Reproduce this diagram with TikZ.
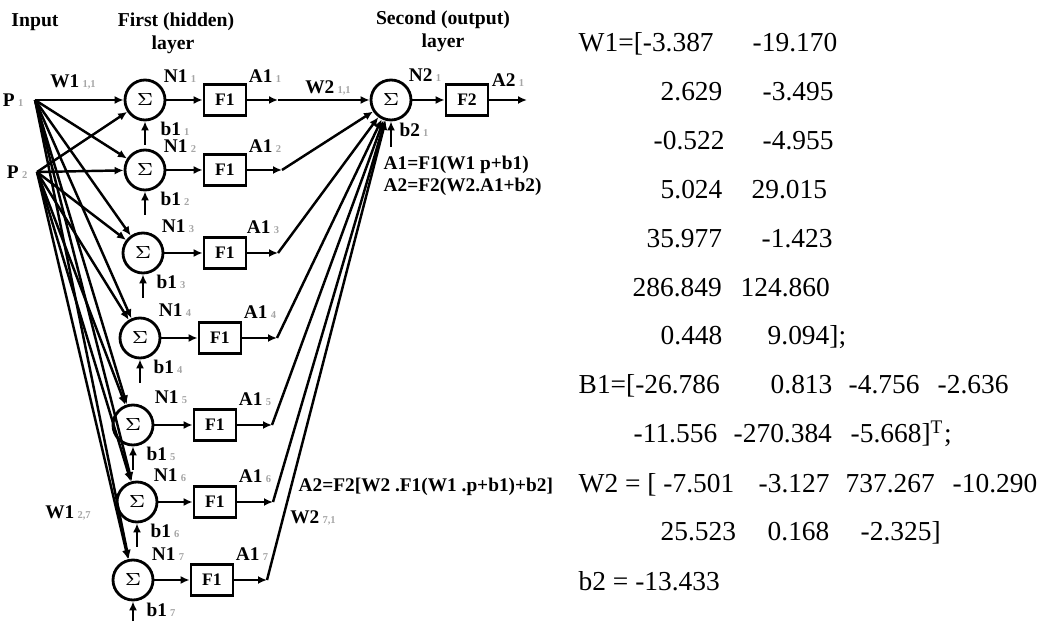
\documentclass[tikz,border=0pt]{standalone}
\usepackage{fontspec}
\setmainfont{Liberation Serif}
\usetikzlibrary{arrows.meta,positioning}
\def\ix#1{\,{\color{black!35}\fontsize{3}{3}\selectfont #1}}
\tikzset{
	sumnode/.style={draw, circle, line width=0.8pt, minimum size=0.4cm, inner sep=0pt, font=\fontsize{5.5}{6}\selectfont},
	funbox/.style={draw, rectangle, line width=0.8pt, minimum width=0.42cm, minimum height=0.31cm, inner sep=0pt, font=\bfseries\fontsize{5}{6}\selectfont},
	hdr/.style={inner sep=0pt, font=\bfseries\fontsize{5.6}{6}\selectfont},
	lbl/.style={inner sep=0pt, font=\bfseries\fontsize{5.5}{6}\selectfont},
	val/.style={inner sep=0pt, anchor=base west, font=\fontsize{7.8}{9}\selectfont},
	arr/.style={line width=0.7pt, -{Latex[length=0.9mm,width=0.8mm]}}
}

\begin{document}
\begin{tikzpicture}
		%%%%% START %%%%%
		\useasboundingbox (0,0) rectangle (10.43,6.21);
		
		\node[hdr] (hin) at (0.35,5.99) {Input};
		\node[hdr] (hhid) at (1.76,5.99) {First (hidden)};
		\node[hdr] (hhidb) at (1.73,5.76) {layer};
		\node[hdr] (hout) at (4.43,6.01) {Second (output)};
		\node[hdr] (houtb) at (4.43,5.78) {layer};
		
		\coordinate (p1) at (0.35,5.21);
		\coordinate (p2) at (0.37,4.49);
		\node[lbl, left=0.11 of p1] (lp1) {P\ix{1}};
		\node[lbl, left=0.09 of p2] (lp2) {P\ix{2}};
		
		% hidden layer
		\node[sumnode] (s1) at (1.45,5.21) {$\Sigma$};
		\node[sumnode] (s2) at (1.45,4.51) {$\Sigma$};
		\node[sumnode] (s3) at (1.43,3.68) {$\Sigma$};
		\node[sumnode] (s4) at (1.40,2.83) {$\Sigma$};
		\node[sumnode] (s5) at (1.33,1.96) {$\Sigma$};
		\node[sumnode] (s6) at (1.37,1.19) {$\Sigma$};
		\node[sumnode] (s7) at (1.33,0.41) {$\Sigma$};
		
		\node[funbox] (f1) at (2.25,5.21) {F1};
		\node[funbox] (f2) at (2.25,4.51) {F1};
		\node[funbox] (f3) at (2.25,3.68) {F1};
		\node[funbox] (f4) at (2.20,2.83) {F1};
		\node[funbox] (f5) at (2.15,1.96) {F1};
		\node[funbox] (f6) at (2.15,1.19) {F1};
		\node[funbox] (f7) at (2.12,0.41) {F1};
		
		\coordinate (a1) at (2.78,5.21);
		\coordinate (a2) at (2.82,4.51);
		\coordinate (a3) at (2.78,3.68);
		\coordinate (a4) at (2.77,2.83);
		\coordinate (a5) at (2.72,1.96);
		\coordinate (a6) at (2.73,1.19);
		\coordinate (a7) at (2.67,0.41);
		
		\coordinate (t1) at ([yshift=-0.45cm]s1);
		\coordinate (t2) at ([yshift=-0.45cm]s2);
		\coordinate (t3) at ([yshift=-0.45cm]s3);
		\coordinate (t4) at ([yshift=-0.45cm]s4);
		\coordinate (t5) at ([yshift=-0.45cm]s5);
		\coordinate (t6) at ([yshift=-0.45cm]s6);
		\coordinate (t7) at ([yshift=-0.41cm]s7);
		
		\node[lbl] (nl1) at ([shift={(0.35,0.24)}]s1) {N1\ix{1}};
		\node[lbl] (nl2) at ([shift={(0.35,0.24)}]s2) {N1\ix{2}};
		\node[lbl] (nl3) at ([shift={(0.35,0.27)}]s3) {N1\ix{3}};
		\node[lbl] (nl4) at ([shift={(0.35,0.28)}]s4) {N1\ix{4}};
		\node[lbl] (nl5) at ([shift={(0.38,0.28)}]s5) {N1\ix{5}};
		\node[lbl] (nl6) at ([shift={(0.33,0.27)}]s6) {N1\ix{6}};
		\node[lbl] (nl7) at ([shift={(0.35,0.26)}]s7) {N1\ix{7}};
		
		\node[lbl] (al1) at ([shift={(0.40,0.24)}]f1) {A1\ix{1}};
		\node[lbl] (al2) at ([shift={(0.40,0.24)}]f2) {A1\ix{2}};
		\node[lbl] (al3) at ([shift={(0.38,0.26)}]f3) {A1\ix{3}};
		\node[lbl] (al4) at ([shift={(0.40,0.26)}]f4) {A1\ix{4}};
		\node[lbl] (al5) at ([shift={(0.40,0.26)}]f5) {A1\ix{5}};
		\node[lbl] (al6) at ([shift={(0.40,0.26)}]f6) {A1\ix{6}};
		\node[lbl] (al7) at ([shift={(0.40,0.26)}]f7) {A1\ix{7}};
		
		\node[lbl] (bl1) at ([shift={(0.30,-0.29)}]s1) {b1\ix{1}};
		\node[lbl] (bl2) at ([shift={(0.30,-0.29)}]s2) {b1\ix{2}};
		\node[lbl] (bl3) at ([shift={(0.28,-0.29)}]s3) {b1\ix{3}};
		\node[lbl] (bl4) at ([shift={(0.28,-0.29)}]s4) {b1\ix{4}};
		\node[lbl] (bl5) at ([shift={(0.28,-0.29)}]s5) {b1\ix{5}};
		\node[lbl] (bl6) at ([shift={(0.28,-0.29)}]s6) {b1\ix{6}};
		\node[lbl] (bl7) at ([shift={(0.28,-0.30)}]s7) {b1\ix{7}};
		
		% output layer
		\node[sumnode] (o1) at (3.91,5.21) {$\Sigma$};
		\node[funbox] (g1) at (4.67,5.21) {F2};
		\coordinate (out) at (5.27,5.21);
		\coordinate (t8) at ([yshift=-0.47cm]o1);
		\node[lbl] (nl8) at (4.25,5.46) {N2\ix{1}};
		\node[lbl] (al8) at (5.08,5.41) {A2\ix{1}};
		\node[lbl] (bl8) at (4.14,4.91) {b2\ix{1}};
		
		\node[lbl] (w11) at (0.73,5.39) {W1\ix{1,1}};
		\node[lbl] (w27) at (0.68,1.08) {W1\ix{2,7}};
		\node[lbl] (v11) at (3.28,5.33) {W2\ix{1,1}};
		\node[lbl] (v71) at (3.13,1.03) {W2\ix{7,1}};
		
		\node[lbl, anchor=west] (eq1) at (3.83,4.56) {A1=F1(W1 p+b1)};
		\node[lbl, anchor=west] (eq2) at (3.83,4.34) {A2=F2(W2.A1+b2)};
		\node[lbl, anchor=west] (eq3) at (2.98,1.34) {A2=F2[W2 .F1(W1 .p+b1)+b2]};
		
		% inputs to hidden layer
		\draw[arr] (p1) -- (s1);
		\draw[arr] (p1) -- (s2);
		\draw[arr] (p1) -- (s3);
		\draw[arr] (p1) -- (s4);
		\draw[arr] (p1) -- (s5);
		\draw[arr] (p1) -- (s6);
		\draw[arr] (p1) -- (s7);
		\draw[arr] (p2) -- (s1);
		\draw[arr] (p2) -- (s2);
		\draw[arr] (p2) -- (s3);
		\draw[arr] (p2) -- (s4);
		\draw[arr] (p2) -- (s5);
		\draw[arr] (p2) -- (s6);
		\draw[arr] (p2) -- (s7);
		
		\draw[arr] (t1) -- (s1);
		\draw[arr] (t2) -- (s2);
		\draw[arr] (t3) -- (s3);
		\draw[arr] (t4) -- (s4);
		\draw[arr] (t5) -- (s5);
		\draw[arr] (t6) -- (s6);
		\draw[arr] (t7) -- (s7);
		
		\draw[arr] (s1) -- (f1);
		\draw[arr] (s2) -- (f2);
		\draw[arr] (s3) -- (f3);
		\draw[arr] (s4) -- (f4);
		\draw[arr] (s5) -- (f5);
		\draw[arr] (s6) -- (f6);
		\draw[arr] (s7) -- (f7);
		
		\draw[arr] (f1) -- (a1);
		\draw[arr] (f2) -- (a2);
		\draw[arr] (f3) -- (a3);
		\draw[arr] (f4) -- (a4);
		\draw[arr] (f5) -- (a5);
		\draw[arr] (f6) -- (a6);
		\draw[arr] (f7) -- (a7);
		
		% hidden to output layer
		\draw[arr] (a1) -- (o1);
		\draw[arr] (a2) -- (o1);
		\draw[arr] (a3) -- (o1);
		\draw[arr] (a4) -- (o1);
		\draw[arr] (a5) -- (o1);
		\draw[arr] (a6) -- (o1);
		\draw[arr] (a7) -- (o1);
		\draw[arr] (t8) -- (o1);
		\draw[arr] (o1) -- (g1);
		\draw[arr] (g1) -- (out);
		
		% trained values
		\node[val] (m1a) at (5.78,5.69) {W1=[-3.387};
		\node[val] (m1b) at (7.52,5.69) {-19.170};
		\node[val] (m2a) at (6.60,5.20) {2.629};
		\node[val] (m2b) at (7.62,5.20) {-3.495};
		\node[val] (m3a) at (6.53,4.71) {-0.522};
		\node[val] (m3b) at (7.62,4.71) {-4.955};
		\node[val] (m4a) at (6.60,4.22) {5.024};
		\node[val] (m4b) at (7.51,4.22) {29.015};
		\node[val] (m5a) at (6.46,3.73) {35.977};
		\node[val] (m5b) at (7.61,3.73) {-1.423};
		\node[val] (m6a) at (6.32,3.24) {286.849};
		\node[val] (m6b) at (7.40,3.24) {124.860};
		\node[val] (m7a) at (6.60,2.76) {0.448};
		\node[val] (m7b) at (7.67,2.76) {9.094];};
		
		\node[val] (m8a) at (5.78,2.27) {B1=[-26.786};
		\node[val] (m8b) at (7.70,2.27) {0.813};
		\node[val] (m8c) at (8.48,2.27) {-4.756};
		\node[val] (m8d) at (9.37,2.27) {-2.636};
		\node[val] (m9a) at (6.33,1.78) {-11.556};
		\node[val] (m9b) at (7.33,1.78) {-270.384};
		\node[val] (m9c) at (8.50,1.78) {-5.668]\textsuperscript{T};};
		
		\node[val] (m10a) at (5.78,1.29) {W2 = [ -7.501};
		\node[val] (m10b) at (7.58,1.29) {-3.127};
		\node[val] (m10c) at (8.45,1.29) {737.267};
		\node[val] (m10d) at (9.52,1.29) {-10.290};
		\node[val] (m11a) at (6.60,0.80) {25.523};
		\node[val] (m11b) at (7.67,0.80) {0.168};
		\node[val] (m11c) at (8.60,0.80) {-2.325]};
		
		\node[val] (m12a) at (5.78,0.31) {b2 = -13.433};
		
		%%%%% END %%%%%
\end{tikzpicture}
\end{document}
